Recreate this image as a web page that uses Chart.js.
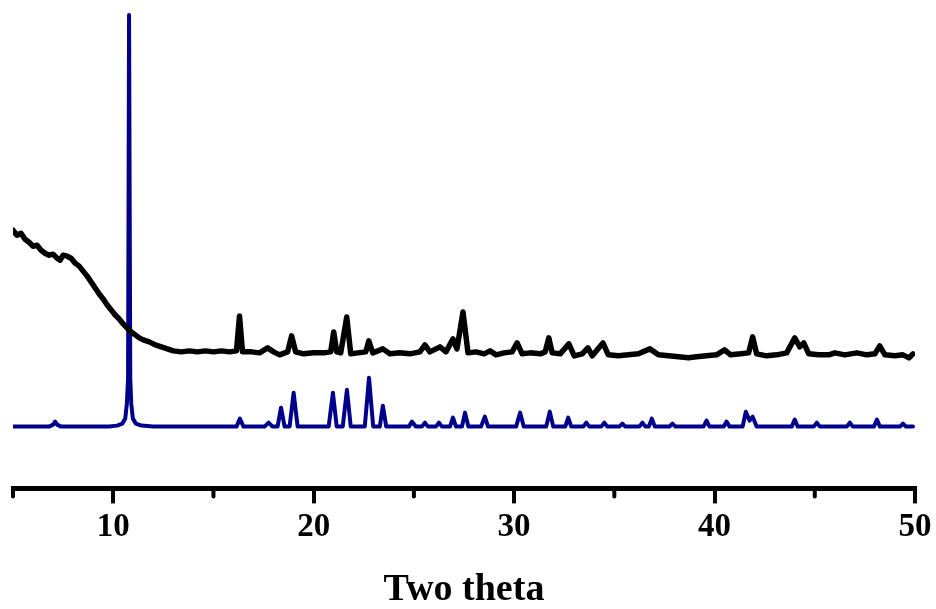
<!DOCTYPE html>
<html>
<head>
<meta charset="utf-8">
<title>Two theta</title>
<script src="https://cdn.jsdelivr.net/npm/chart.js@4.4.1/dist/chart.umd.min.js"></script>
<style>
    html, body { margin: 0; padding: 0; background: #fff; }
    #wrap { position: relative; width: 936px; height: 609px; }
</style>
</head>
<body>
<div id="wrap"><canvas id="xrdChart"></canvas></div>
<script>
"use strict";

// measured pattern (black), offset above the simulated one
var expTheta = [
    5.0, 5.2, 5.4, 5.6, 5.8, 6.0, 6.2, 6.4, 6.6, 6.8, 7.0, 7.2, 7.35, 7.5, 7.7, 7.9,
    8.1, 8.3, 8.5, 8.7, 8.9, 9.1, 9.3, 9.5, 9.7, 9.9, 10.1, 10.3, 10.5, 10.7, 10.9,
    11.1, 11.3, 11.5, 11.8, 12.1, 12.4, 12.7, 13.0, 13.4, 13.8, 14.2, 14.6, 15.0,
    15.4, 15.8, 16.15, 16.3, 16.45, 16.9, 17.3, 17.7, 18.0, 18.3, 18.7, 18.9, 19.1,
    19.5, 20.0, 20.5, 20.85, 21.0, 21.15, 21.35, 21.65, 21.85, 22.2, 22.6, 22.75,
    22.95, 23.45, 23.8, 24.3, 24.8, 25.3, 25.55, 25.8, 26.3, 26.6, 26.95, 27.15,
    27.45, 27.7, 28.1, 28.5, 28.8, 29.1, 29.5, 29.9, 30.15, 30.4, 30.8, 31.3, 31.55,
    31.73, 31.9, 32.3, 32.73, 33.0, 33.4, 33.68, 33.9, 34.43, 34.7, 35.2, 35.7,
    36.2, 36.77, 37.2, 37.7, 38.2, 38.7, 39.1, 39.6, 40.1, 40.5, 40.8, 41.3, 41.7,
    41.9, 42.1, 42.6, 43.1, 43.6, 44.0, 44.25, 44.45, 44.7, 45.2, 45.7, 46.0, 46.5,
    47.1, 47.6, 48.0, 48.24, 48.5, 49.0, 49.4, 49.7, 49.9
];
var expIntensity = [
    259, 254, 256, 250, 247, 243, 244, 239, 236, 234, 235, 231, 229, 234, 233, 231,
    226, 223, 218, 213, 207, 201, 195, 190, 184, 179, 174, 170, 165, 161, 157,
    154, 151, 149, 147, 144, 142, 140, 138, 137, 138, 137, 138, 137,
    138, 137, 138, 173, 137, 137, 136, 141, 137, 134, 137, 153, 137,
    135, 136, 136, 137, 157, 137, 136, 172, 135, 136, 137, 148,
    136, 140, 135, 136, 135, 137, 144, 137, 142, 137, 150, 140,
    177, 136, 137, 135, 138, 134, 136, 137, 146, 135, 136, 135, 137,
    151, 136, 135, 145, 133, 135, 141, 133, 146, 134, 133, 134,
    135, 140, 134, 133, 132, 131, 132, 133, 134, 139, 134, 135, 136,
    152, 135, 133, 134, 136, 151, 142, 146, 135, 134, 134, 136, 134,
    136, 134, 135, 143, 134, 133, 134, 131, 135
];

// simulated pattern (blue)
var simTheta = [
    5.0, 6.8, 7.0, 7.1, 7.2, 7.4, 9.8, 10.2, 10.45, 10.6, 10.68, 10.74, 10.79,
    10.85, 10.9, 10.98, 11.13, 11.4, 12.0, 14.0, 16.15, 16.32, 16.5, 17.55, 17.75,
    17.95, 18.2, 18.37, 18.55, 18.8, 19.0, 19.2, 20.75, 20.96, 21.15, 21.45, 21.66,
    21.85, 22.55, 22.76, 22.97, 23.3, 23.45, 23.62, 24.75, 24.9, 25.1, 25.4, 25.55,
    25.7, 26.1, 26.25, 26.4, 26.8, 26.95, 27.1, 27.4, 27.55, 27.72, 28.35, 28.54,
    28.7, 30.1, 30.3, 30.48, 31.6, 31.78, 31.95, 32.55, 32.7, 32.85, 33.45, 33.6,
    33.75, 34.35, 34.5, 34.65, 35.25, 35.4, 35.55, 36.25, 36.4, 36.55, 36.72, 36.87,
    37.02, 37.75, 37.9, 38.05, 39.45, 39.6, 39.75, 40.45, 40.6, 40.75, 41.4, 41.56,
    41.75, 41.9, 42.1, 43.85, 44.0, 44.15, 44.95, 45.1, 45.25, 46.6, 46.75, 46.9,
    47.95, 48.1, 48.25, 49.25, 49.4, 49.55, 49.9
];
var simIntensity = [
    62, 62, 64, 67, 64, 62, 62, 63, 65, 70, 85, 110, 475,
    110, 85, 70, 65, 63, 62, 62, 62, 70, 62, 62, 66,
    62, 62, 81, 62, 62, 96, 62, 62, 96, 62, 62, 99,
    62, 62, 111, 62, 62, 83, 62, 62, 67, 62, 62, 66,
    62, 62, 66, 62, 62, 71, 62, 62, 76, 62, 62, 72,
    62, 62, 76, 62, 62, 77, 62, 62, 71, 62, 62, 66,
    62, 62, 66, 62, 62, 65, 62, 62, 66, 62, 62, 70,
    62, 62, 65, 62, 62, 68, 62, 62, 67, 62, 62, 77,
    68, 72, 62, 62, 69, 62, 62, 66, 62, 62, 66, 62,
    62, 69, 62, 62, 65, 62, 62
];

var majorTicks = [10, 20, 30, 40, 50];
var minorTicks = [5, 15, 25, 35, 45];

function toPoints(xs, ys) {
    return xs.map(function (x, i) { return { x: x, y: ys[i] }; });
}

// shorter ticks between the labelled ones
var minorTickPlugin = {
    id: "minorTicks",
    afterDraw: function (chart) {
        var scale = chart.scales.x;
        var ctx = chart.ctx;
        ctx.save();
        ctx.strokeStyle = "#000";
        ctx.lineWidth = 4;
        ctx.lineCap = "round";
        minorTicks.forEach(function (v) {
            var px = scale.getPixelForValue(v);
            ctx.beginPath();
            ctx.moveTo(px, scale.top);
            ctx.lineTo(px, scale.top + 8);
            ctx.stroke();
        });
        ctx.restore();
    }
};

var serif = "'Liberation Serif', 'Times New Roman', serif";

new Chart(document.getElementById("xrdChart"), {
    type: "line",
    plugins: [minorTickPlugin],
    data: {
        datasets: [
            {
                label: "experimental",
                data: toPoints(expTheta, expIntensity),
                borderColor: "#000000",
                borderWidth: 5.5,
                borderJoinStyle: "round",
                borderCapStyle: "round",
                pointRadius: 0,
                tension: 0,
            },
            {
                label: "simulated",
                data: toPoints(simTheta, simIntensity),
                borderColor: "#00008B",
                borderWidth: 4,
                borderJoinStyle: "round",
                borderCapStyle: "round",
                pointRadius: 0,
                tension: 0,
            },
        ],
    },
    options: {
        responsive: true,
        maintainAspectRatio: false,
        animation: false,
        layout: { padding: { left: 13, right: 21, top: 12, bottom: 0 } },
        plugins: {
            legend: { display: false },
            tooltip: { enabled: false },
        },
        scales: {
            x: {
                type: "linear",
                min: 5,
                max: 50,
                offset: false,
                afterBuildTicks: function (scale) {
                    scale.ticks = majorTicks.map(function (v) { return { value: v }; });
                },
                border: { display: true, color: "#000", width: 5 },
                grid: {
                    display: true,
                    drawOnChartArea: false,
                    color: "#000",
                    lineWidth: 4,
                    tickLength: 15,
                },
                ticks: {
                    color: "#000",
                    padding: 4,
                    maxRotation: 0,
                    font: { family: serif, size: 33, weight: "bold", lineHeight: 1.2 },
                },
                title: {
                    display: true,
                    text: "Two theta",
                    color: "#000",
                    padding: { top: 20, bottom: 0 },
                    font: { family: serif, size: 38, weight: "bold", lineHeight: 1 },
                },
            },
            y: {
                display: false,
                min: 0,
                max: 478,
            },
        },
    },
});
</script>
</body>
</html>
